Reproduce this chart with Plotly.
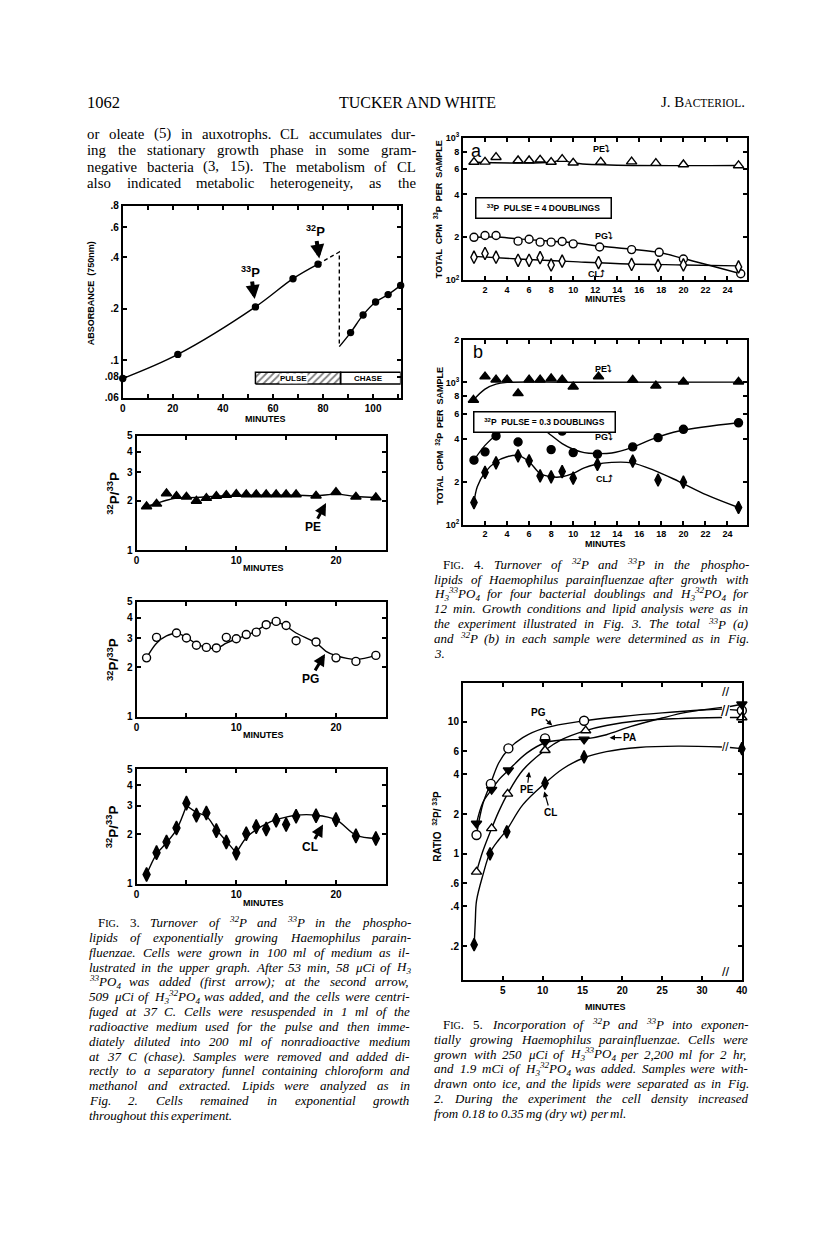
"""Tucker & White, J. Bacteriol. p. 1062 : Fig. 3, 4 et 5 redessinées avec Plotly."""

import math
import re

import plotly.graph_objects as go

W, H = 816, 1252
SERIF = "Liberation Serif"
SANS = "Liberation Sans, DejaVu Sans"

# --- Fig. 3 (haut) : croissance, absorbance 750 nm ---
growth_t = [0, 22, 53, 68, 78]
growth_od = [0.078, 0.108, 0.205, 0.30, 0.365]
dilution_t = [78, 86.5, 86.5]
dilution_od = [0.365, 0.43, 0.12]
chase_t = [91, 96, 101, 106, 111]
chase_od = [0.145, 0.184, 0.219, 0.242, 0.274]
pulse_span = [53, 87]
chase_span = [87, 111]
bar_od = [0.0724, 0.085]

# --- Fig. 3 : rapports 32P/33P ---
pe_t = [1, 2, 3, 4, 5, 6, 7, 8, 9, 10, 11, 12, 13, 14, 15, 16, 18, 20, 22, 24]
pe_ratio = [1.85, 1.92, 2.22, 2.14, 2.12, 2.0, 2.08, 2.14, 2.17, 2.2, 2.19, 2.19,
            2.19, 2.19, 2.19, 2.19, 2.15, 2.26, 2.12, 2.1]
pe_fit_t = [1, 2, 3, 4, 6, 8, 10, 12, 14, 16, 18, 20, 22, 24]
pe_fit = [1.85, 1.93, 2.02, 2.08, 2.1, 2.14, 2.16, 2.17, 2.17, 2.17, 2.15, 2.2, 2.13, 2.1]

pg_t = [1, 2, 4, 5, 6, 7, 8, 9, 10, 11, 12, 13, 14, 15, 16, 18, 20, 22, 24]
pg_ratio = [2.28, 3.04, 3.23, 3.01, 2.72, 2.64, 2.62, 3.04, 2.98, 3.16, 3.27, 3.63,
            3.8, 3.59, 2.90, 2.85, 2.28, 2.17, 2.36]
pg_fit_t = [1, 2, 3, 4, 5, 6, 7, 8, 9, 10, 11, 12, 13, 14, 15, 16, 18, 19, 20, 22, 24]
pg_fit = [2.28, 2.8, 3.1, 3.22, 3.04, 2.77, 2.64, 2.6, 2.8, 2.98, 3.12, 3.33, 3.62,
          3.77, 3.55, 3.23, 2.81, 2.5, 2.35, 2.23, 2.36]

cl_t = [1, 2, 3, 4, 5, 6, 7, 8, 9, 10, 11, 12, 13, 14, 15, 16, 18, 20, 22, 24]
cl_ratio = [1.14, 1.55, 1.80, 2.19, 3.10, 2.62, 2.70, 2.11, 1.80, 1.54, 2.02, 2.23,
            2.16, 2.44, 2.30, 2.58, 2.60, 2.46, 1.96, 1.89]
cl_fit_t = [1, 2, 3, 4, 5, None, 5, 6, 7, 8, 9, 10, None,
            10, 11, 12, 13, 14, 15, 16, 18, 20, 22, 24]
cl_fit = [1.14, 1.52, 1.78, 2.14, 3.0, None, 3.0, 2.73, 2.58, 2.14, 1.82, 1.54, None,
          1.54, 1.91, 2.14, 2.32, 2.46, 2.55, 2.62, 2.62, 2.46, 1.98, 1.89]

# --- Fig. 4a : cpm 33P ---
a_pe_t = [1, 2, 3, 5, 6, 7, 8, 9, 10, 12.5, 15.3, 17.5, 20, 25]
a_pe = [675, 677, 730, 692, 692, 700, 675, 707, 667, 677, 680, 663, 649, 639]
a_pe_fit_t = [1, 8, 9, 10, 25]
a_pe_fit = [672, 672, 700, 665, 639]
a_pg_t = [1, 2, 3, 5, 6, 7, 8, 9, 10, 12.4, 15.3, 17.8, 20, 25.2]
a_pg = [200, 206, 206, 188, 194, 185, 185, 187, 180, 171, 164, 157, 141, 111]
a_pg_fit_t = [1, 3, 5, 10, 12.5, 17.7, 20, 25.2]
a_pg_fit = [200, 201, 195, 183, 173, 157, 142, 111]
a_cl_t = [1, 2, 3, 5, 6, 7, 8, 9, 12.3, 15.3, 17.7, 20, 25]
a_cl = [145, 154, 145, 138, 138, 144, 128, 136, 133, 129, 127, 128, 124]
a_cl_fit_t = [1, 5, 10, 15, 20, 25]
a_cl_fit = [147, 141, 135, 130, 128, 126]

# --- Fig. 4b : cpm 32P ---
b_pe_t = [0.95, 2, 3, 4, 5, 6, 7, 8, 9, 10, 12.3, 15.4, 17.5, 20, 25]
b_pe = [753, 1100, 1045, 1045, 838, 1045, 1045, 1066, 1045, 933, 1100, 1040, 948, 1010, 1010]
b_pe_fit_t = [0.95, 2, 3, 4, 10, 25]
b_pe_fit = [753, 898, 973, 1000, 1003, 1005]
b_pg_t = [1, 2, 3, 5, 6, 7, 8, 9, 10, 12.2, 15.4, 17.7, 20, 25]
b_pg = [284, 325, 420, 381, 507, 491, 337, 455, 321, 313, 352, 409, 468, 520]
b_pg_fit_t = [1, 2, 3, 4, 5, 6, 7, 8, 9, 10, 11, 12, 13.5, 15.3, 17.3, 19.6, 25]
b_pg_fit = [284, 361, 425, 472, 499, 507, 485, 425, 371, 339, 321, 316, 319, 348, 403, 455, 520]
b_cl_t = [1, 2, 3, 5, 6, 7, 8, 9, 10, 12.2, 15.4, 17.7, 20, 25]
b_cl = [143, 233, 272, 305, 281, 220, 217, 236, 212, 265, 280, 206, 199, 132]
b_cl_fit_t = [1, 1.3, 2, 3, 4, 5, 6, 7, 8, 9, 10, 11, 12, 13.5, 15.3, 17.3, 19.6, 22.1, 25]
b_cl_fit = [143, 185, 233, 277, 300, 307, 277, 229, 217, 217, 229, 251, 265, 274, 272,
            242, 201, 162, 132]

# --- Fig. 5 : rapport 32P/33P (axe coupé entre 30 et 40 min) ---
f5_pg_t = [1.7, 3.5, 5.7, 10.3, 15.2, 40]
f5_pg = [1.39, 3.39, 6.3, 7.5, 10.2, 12.2]
f5_pa_t = [1.7, 3.6, 5.7, 10.3, 15.2, 40]
f5_pa = [1.70, 3.07, 4.31, 7.04, 7.37, 13.6]
f5_pe_t = [1.7, 3.6, 5.6, 10.3, 15.4, 40]
f5_pe = [0.73, 1.56, 2.85, 6.1, 8.6, 10.8]
f5_cl_t = [1.4, 3.4, 5.5, 10.3, 15.2, 40]
f5_cl = [0.205, 1.0, 1.47, 3.43, 5.43, 6.27]
f5_pg_fit_t = [1.7, 2.5, 3.5, 4.5, 5.7, 7.5, 10.3, 15.2, 20, 25, 30, 32.5, None, 33.5, 40]
f5_pg_fit = [1.39, 2.4, 3.45, 4.9, 6.2, 7.6, 9.0, 10.2, 11.0, 11.7, 12.3, 12.5, None, 12.4, 12.2]
f5_pa_fit_t = [1.7, 2.5, 3.6, 4.6, 5.7, 8, 10.3, 12.5, 15.2, 18, 21, 25, 28, 32.5, None, 33.5, 40]
f5_pa_fit = [1.7, 2.45, 3.07, 3.7, 4.3, 5.8, 6.95, 7.3, 7.4, 8.0, 9.2, 10.7, 11.8, 12.9,
             None, 13.1, 13.6]
f5_pe_fit_t = [1.7, 2.5, 3.6, 4.5, 5.6, 7.5, 10.3, 12.5, 15.4, 18, 22, 27, 32.5, None, 33.5, 40]
f5_pe_fit = [0.73, 1.05, 1.56, 2.1, 2.85, 4.3, 6.1, 7.4, 8.6, 9.4, 10.2, 10.6, 10.8,
             None, 10.8, 10.8]
f5_cl_fit_t = [1.4, 1.55, 1.7, 2.5, 3.4, 4.5, 5.5, 7.5, 10.3, 12.5, 15.2, 18, 22, 27, 32.5,
               None, 33.5, 40]
f5_cl_fit = [0.2, 0.31, 0.44, 0.69, 1.02, 1.28, 1.52, 2.35, 3.43, 4.4, 5.35, 5.95, 6.4,
             6.55, 6.45, None, 6.4, 6.27]
F5_LAST = 35  # position on the axis where "40" is drawn

# --- textes ---
body_lines = [
    "or oleate (5) in auxotrophs. CL accumulates dur-",
    "ing the stationary growth phase in some gram-",
    "negative bacteria (3, 15). The metabolism of CL",
    "also indicated metabolic heterogeneity, as the",
]
SC = "<span style='font-size:10px'>IG</span>"
fig3_caption = [
    f"F{SC}. 3. Turnover of <sup>32</sup>P and <sup>33</sup>P in the phospho-",
    "lipids of exponentially growing Haemophilus parain-",
    "fluenzae. Cells were grown in 100 ml of medium as il-",
    "lustrated in the upper graph. After 53 min, 58 μCi of H<sub>3</sub>",
    "<sup>33</sup>PO<sub>4</sub> was added (first arrow); at the second arrow,",
    "509 μCi of H<sub>3</sub><sup>32</sup>PO<sub>4</sub> was added, and the cells were centri-",
    "fuged at 37 C. Cells were resuspended in 1 ml of the",
    "radioactive medium used for the pulse and then imme-",
    "diately diluted into 200 ml of nonradioactive medium",
    "at 37 C (chase). Samples were removed and added di-",
    "rectly to a separatory funnel containing chloroform and",
    "methanol and extracted. Lipids were analyzed as in",
    "Fig. 2. Cells remained in exponential growth",
    "throughout this experiment.",
]
fig4_caption = [
    f"F{SC}. 4. Turnover of <sup>32</sup>P and <sup>33</sup>P in the phospho-",
    "lipids of Haemophilus parainfluenzae after growth with",
    "H<sub>3</sub><sup>33</sup>PO<sub>4</sub> for four bacterial doublings and "
    "H<sub>3</sub><sup>32</sup>PO<sub>4</sub> for",
    "12 min. Growth conditions and lipid analysis were as in",
    "the experiment illustrated in Fig. 3. The total <sup>33</sup>P (a)",
    "and <sup>32</sup>P (b) in each sample were determined as in Fig.",
    "3.",
]
fig5_caption = [
    f"F{SC}. 5. Incorporation of <sup>32</sup>P and <sup>33</sup>P into exponen-",
    "tially growing Haemophilus parainfluenzae. Cells were",
    "grown with 250 μCi of H<sub>3</sub><sup>33</sup>PO<sub>4</sub> per 2,200 ml for 2 hr,",
    "and 1.9 mCi of H<sub>3</sub><sup>32</sup>PO<sub>4</sub> was added. Samples were with-",
    "drawn onto ice, and the lipids were separated as in Fig.",
    "2. During the experiment the cell density increased",
    "from 0.18 to 0.35 mg (dry wt) per ml.",
]


# Times metrics (1/1000 em), used to justify lines like the printed page
def _metrics(upper, lower, extra):
    d = dict(zip("ABCDEFGHIJKLMNOPQRSTUVWXYZ", upper))
    d.update(zip("abcdefghijklmnopqrstuvwxyz", lower))
    d.update({c: 500 for c in "0123456789μ"})
    d.update(extra)
    return d


ROMAN = _metrics(
    [722, 667, 667, 722, 611, 556, 722, 722, 333, 389, 722, 611, 889, 722, 722, 556, 722,
     667, 556, 611, 722, 722, 944, 722, 722, 611],
    [444, 500, 444, 500, 444, 333, 500, 500, 278, 278, 500, 278, 778, 500, 500, 500, 500,
     333, 389, 278, 500, 500, 722, 500, 500, 444],
    {"(": 333, ")": 333, ",": 250, ".": 250, "-": 333, ";": 278, ":": 278},
)
ITALIC = _metrics(
    [611, 611, 667, 722, 611, 611, 722, 722, 333, 444, 667, 556, 833, 667, 722, 611, 722,
     611, 500, 556, 722, 611, 833, 611, 556, 556],
    [500, 500, 444, 500, 444, 278, 500, 500, 278, 278, 444, 278, 722, 500, 500, 500, 500,
     389, 389, 278, 500, 444, 667, 444, 444, 389],
    {"(": 333, ")": 333, ",": 250, ".": 250, "-": 333, ";": 333, ":": 333},
)


def word_width(word, size, italic):
    table = ITALIC if italic else ROMAN
    scale, total = 1.0, 0.0
    for tok in re.split(r"(<[^>]+>)", word):
        if tok.startswith("<"):
            m = re.search(r"font-size:(\d+)px", tok)
            if tok in ("<sup>", "<sub>"):
                scale = 0.7
            elif m:
                scale = int(m.group(1)) / size
            elif tok.startswith("</"):
                scale = 1.0
            continue
        total += sum(table.get(ch, 500) for ch in tok) * scale
    return total * size / 1000


def xdom(l, r):
    return [l / W, r / W]


def ydom(t, b):
    return [1 - b / H, 1 - t / H]


def frame(domain, anchor, rng, vals, text, log=False, size=10):
    return dict(
        domain=domain, anchor=anchor, range=rng, type="log" if log else "linear",
        showline=True, linewidth=2, linecolor="black", mirror="allticks",
        ticks="inside", ticklen=4, tickwidth=1.5, tickcolor="black",
        showgrid=False, zeroline=False, tickmode="array", tickvals=vals, ticktext=text,
        tickfont=dict(family=SANS, size=size, color="black", weight="bold"),
    )


fig = go.Figure()


def curve(ax, x, y, dash=None, shape="spline"):
    fig.add_trace(go.Scatter(
        x=x, y=y, xaxis=ax[0], yaxis=ax[1], mode="lines", connectgaps=False,
        line=dict(color="black", width=1.4, shape=shape, dash=dash), hoverinfo="skip",
    ))


def points(ax, x, y, symbol, size, filled=True):
    fig.add_trace(go.Scatter(
        x=x, y=y, xaxis=ax[0], yaxis=ax[1], mode="markers", cliponaxis=False,
        marker=dict(symbol=symbol, size=size, color="black" if filled else "white",
                    line=dict(color="black", width=1.4)),
    ))


def f5(ts):
    return [None if t is None else (F5_LAST if t >= 40 else t) for t in ts]


# Fig. 3 haut
A3 = ("x", "y")
curve(A3, growth_t, growth_od)
curve(A3, dilution_t, dilution_od, dash="4px,3px", shape="linear")
curve(A3, [dilution_t[-1]] + chase_t, [dilution_od[-1]] + chase_od)
fig.add_trace(go.Scatter(
    x=[pulse_span[0], pulse_span[1], pulse_span[1], pulse_span[0], pulse_span[0]],
    y=[bar_od[0], bar_od[0], bar_od[1], bar_od[1], bar_od[0]],
    xaxis="x", yaxis="y", mode="lines", fill="toself", fillcolor="white",
    fillpattern=dict(shape="/", fgcolor="black", bgcolor="white", size=5, solidity=0.35),
    line=dict(color="black", width=1.5), hoverinfo="skip",
))
fig.add_trace(go.Scatter(
    x=[chase_span[0], chase_span[1], chase_span[1], chase_span[0], chase_span[0]],
    y=[bar_od[0], bar_od[0], bar_od[1], bar_od[1], bar_od[0]],
    xaxis="x", yaxis="y", mode="lines", line=dict(color="black", width=1.5),
    cliponaxis=False, hoverinfo="skip",
))
points(A3, growth_t + chase_t, growth_od + chase_od, "circle", 6)

# Fig. 3 rapports
curve(("x2", "y2"), pe_fit_t, pe_fit)
points(("x2", "y2"), pe_t, pe_ratio, "triangle-up", 9)
curve(("x3", "y3"), pg_fit_t, pg_fit)
points(("x3", "y3"), pg_t, pg_ratio, "circle", 8, filled=False)
curve(("x4", "y4"), cl_fit_t, cl_fit)
points(("x4", "y4"), cl_t, cl_ratio, "diamond-tall", 10)

# Fig. 4a / 4b
for ax, fits, sets, filled in (
    (("x5", "y5"),
     [(a_pe_fit_t, a_pe_fit), (a_pg_fit_t, a_pg_fit), (a_cl_fit_t, a_cl_fit)],
     [(a_pe_t, a_pe, "triangle-up"), (a_pg_t, a_pg, "circle"), (a_cl_t, a_cl, "diamond-tall")],
     False),
    (("x6", "y6"),
     [(b_pe_fit_t, b_pe_fit), (b_pg_fit_t, b_pg_fit), (b_cl_fit_t, b_cl_fit)],
     [(b_pe_t, b_pe, "triangle-up"), (b_pg_t, b_pg, "circle"), (b_cl_t, b_cl, "diamond-tall")],
     True),
):
    for fx, fy in fits:
        curve(ax, fx, fy)
    for px_, py_, sym in sets:
        points(ax, px_, py_, sym, 9 if sym != "circle" else 8, filled=filled)

# Fig. 5
A5 = ("x7", "y7")
for fx, fy in ((f5_pg_fit_t, f5_pg_fit), (f5_pa_fit_t, f5_pa_fit),
               (f5_pe_fit_t, f5_pe_fit), (f5_cl_fit_t, f5_cl_fit)):
    curve(A5, f5(fx), fy)
points(A5, f5(f5_pg_t), f5_pg, "circle", 9, filled=False)
points(A5, f5(f5_pa_t), f5_pa, "triangle-down", 9)
points(A5, f5(f5_pe_t), f5_pe, "triangle-up", 9, filled=False)
points(A5, f5(f5_cl_t), f5_cl, "diamond-tall", 9)

# ---------------- annotations ----------------
ann = []


def text(x, y, s, size=14, anchor="left", family=SERIF, **kw):
    ann.append(dict(xref="paper", yref="paper", x=x / W, y=1 - y / H, text=s,
                    xanchor=anchor, yanchor="middle", showarrow=False,
                    font=dict(family=family, size=size, color="black"), **kw))


def justified(x0, x1, y, line, size, italic=False, roman=0, last=False):
    """Place words one by one so that the line fills [x0, x1] (justified setting)."""
    words = re.split(r" (?![^<]*>)", line)  # ignore spaces inside tags
    slanted = [italic and i >= roman for i in range(len(words))]
    widths = [word_width(w, size, s) for w, s in zip(words, slanted)]
    gap = 0.25 * size
    if not last and len(words) > 1:
        gap = max(0.2 * size, (x1 - x0 - sum(widths)) / (len(words) - 1))
    x = x0
    for w, wd, s in zip(words, widths, slanted):
        text(x, y, f"<i>{w}</i>" if s else w, size)
        x += wd + gap


def label(x, y, s, size=9, angle=0, anchor="center"):
    ann.append(dict(xref="paper", yref="paper", x=x / W, y=1 - y / H, text=s,
                    xanchor=anchor, yanchor="middle", showarrow=False, textangle=angle,
                    font=dict(family=SANS, size=size, color="black", weight="bold")))


def arrow(ax, x, y, s, dx, dy, width=1.2, size=10, head=0.9):
    ann.append(dict(xref=ax[0], yref=ax[1], x=x, y=math.log10(y), text=s, showarrow=True,
                    ax=dx, ay=dy, arrowhead=2, arrowsize=head, arrowwidth=width,
                    arrowcolor="black", standoff=0,
                    font=dict(family=SANS, size=size, color="black", weight="bold")))


# en-tête et texte courant
text(75, 88, "1062", 16.5)
text(411, 88, "TUCKER AND WHITE", 16, anchor="center")
text(744, 88, "J. B<span style='font-size:11.5px'>ACTERIOL</span>.", 15, anchor="right")
for i, line in enumerate(body_lines):
    justified(75, 407, 120 + i * 16.7, line, 14.8)
for block, x0, x1, y0 in ((fig3_caption, 77, 401, 917), (fig4_caption, 426, 743, 555),
                          (fig5_caption, 426, 743, 1020)):
    for i, line in enumerate(block):
        justified(x0 + (9 if i == 0 else 0), x1, y0 + i * 15.0, line, 13, italic=True,
                  roman=2 if i == 0 else 0, last=i == len(block) - 1)

# Fig. 3 : titres, flèches, barre pulse/chase
label(81, 281, "ABSORBANCE  (750nm)", 9, angle=-90)
label(257, 408, "MINUTES")
arrow(A3, 52.7, 0.228, "<sup>33</sup>P", -4, -27, width=4, size=13, head=0.7)
arrow(A3, 78.5, 0.394, "<sup>32</sup>P", -4, -27, width=4, size=13, head=0.7)
ann.append(dict(xref="x", yref="y", x=68, y=math.log10(0.0785), text="PULSE",
                showarrow=False, bgcolor="white", borderpad=0,
                font=dict(family=SANS, size=8, color="black", weight="bold")))
ann.append(dict(xref="x", yref="y", x=98, y=math.log10(0.0785), text="CHASE",
                showarrow=False, font=dict(family=SANS, size=8, color="black", weight="bold")))
for yc in (483, 651, 820):
    label(103, yc, "<sup>32</sup>P/<sup>33</sup>P", 13.5, angle=-90)
for yc in (559, 728, 897):
    label(255, yc, "MINUTES")
arrow(("x2", "y2"), 19.0, 1.94, "PE", -13, 24, width=3, size=12, head=0.8)
arrow(("x3", "y3"), 18.9, 2.41, "PG", -15, 25, width=3, size=12, head=0.8)
arrow(("x4", "y4"), 18.7, 2.30, "CL", -13, 23, width=3, size=12, head=0.8)

# Fig. 4
label(432, 196, "TOTAL  CPM  <sup>33</sup>P  PER  SAMPLE", 9, angle=-90)
label(433, 425, "TOTAL  CPM  <sup>32</sup>P  PER  SAMPLE", 9, angle=-90)
label(601, 287, "MINUTES")
label(601, 535, "MINUTES")
text(463, 137, "a", 18, family=SANS)
text(465, 341, "b", 18, family=SANS)
for x, y, s in ((586, 135, "PE⤵"), (588, 223, "PG⤵"), (581, 262, "CL⤴"),
                (588, 358, "PE⤵"), (588, 426, "PG⤵"), (590, 469, "CL⤴")):
    label(x, y, s, 9, anchor="left")
for cx, cy, s, w in ((608, 183.5, "<sup>33</sup>P  PULSE = 4 DOUBLINGS", 128),
                     (611.5, 400.5, "<sup>32</sup>P  PULSE = 0.3 DOUBLINGS", 134)):
    ann.append(dict(xref="paper", yref="paper", x=cx / W, y=1 - cy / H, text=s,
                    showarrow=False, width=w, height=13, borderpad=3, bordercolor="black",
                    borderwidth=1.5, bgcolor="white",
                    font=dict(family=SANS, size=8.5, color="black", weight="bold")))

# Fig. 5
label(431, 820, "RATIO  <sup>32</sup>P/ <sup>33</sup>P", 10, angle=-90)
label(601, 1002, "MINUTES")
arrow(A5, 11.2, 9.4, "PG", -14, -13)
arrow(A5, 18.4, 7.6, "PA", 20, 0)
arrow(A5, 8.3, 4.19, "PE", -2, 18)
arrow(A5, 10.2, 2.97, "CL", 6, 21)
for yy in (1.0, 0.0):
    ann.append(dict(xref="x7", yref="y7 domain", x=33, y=yy, text="//", showarrow=False,
                    bgcolor="white", borderpad=0,
                    font=dict(family=SANS, size=13, color="black")))
for yv in (12.2, 6.4):
    ann.append(dict(xref="x7", yref="y7", x=33, y=math.log10(yv), text="//",
                    showarrow=False, font=dict(family=SANS, size=15 if yv > 10 else 12,
                                               color="black")))

# ---------------- axes ----------------
fig.update_layout(
    width=W, height=H, margin=dict(l=0, r=0, t=0, b=0),
    paper_bgcolor="white", plot_bgcolor="white", showlegend=False,
    font=dict(family=SERIF, color="black"), annotations=ann,
    xaxis=frame(xdom(113, 394), "y", [0, 111], list(range(0, 111, 10)),
                ["0", "", "20", "", "40", "", "60", "", "80", "", "100", ""]),
    yaxis=frame(ydom(193, 387), "x", [math.log10(0.06), math.log10(0.8)],
                [0.06, 0.08, 0.1, 0.2, 0.4, 0.6, 0.8],
                [".06", ".08", ".1", ".2", ".4", ".6", ".8"], log=True),
)
for n, (top, bottom) in zip((2, 3, 4), ((425, 541), (593, 709), (762, 878))):
    fig.update_layout({
        f"xaxis{n}": frame(xdom(127, 379), f"y{n}", [0, 25], [0, 5, 10, 15, 20, 25],
                           ["0", "", "10", "", "20", ""]),
        f"yaxis{n}": frame(ydom(top, bottom), f"x{n}", [0, math.log10(5)], [1, 2, 3, 4, 5],
                           ["1", "2", "3", "4", "5"], log=True),
    })
fig4_x = dict(vals=list(range(2, 27, 2)), text=[str(v) for v in range(2, 27, 2)])
fig.update_layout(
    xaxis5=frame(xdom(457, 744), "y5", [0, 25.75], fig4_x["vals"], fig4_x["text"], size=9),
    yaxis5=frame(ydom(124, 268), "x5", [2, 3], [100, 200, 400, 600, 800, 1000],
                 ["10<sup>2</sup>", "2", "4", "6", "8", "10<sup>3</sup>"], log=True, size=9),
    xaxis6=frame(xdom(457, 744), "y6", [0, 25.75], fig4_x["vals"], fig4_x["text"], size=9),
    yaxis6=frame(ydom(328, 515), "x6", [2, math.log10(2000)],
                 [100, 200, 400, 600, 800, 1000, 2000],
                 ["10<sup>2</sup>", "2", "4", "6", "8", "10<sup>3</sup>", "2"], log=True, size=9),
    xaxis7=frame(xdom(457, 739), "y7", [0, F5_LAST], [5, 10, 15, 20, 25, 30, F5_LAST],
                 ["5", "10", "15", "20", "25", "30", "40"]),
    yaxis7=frame(ydom(675, 975), "x7", [-0.955, 1.295], [0.2, 0.4, 0.6, 1, 2, 4, 6, 10, 20],
                 [".2", ".4", ".6", "1", "2", "4", "6", "10", "20"], log=True),
)

fig.write_html("out.html")
